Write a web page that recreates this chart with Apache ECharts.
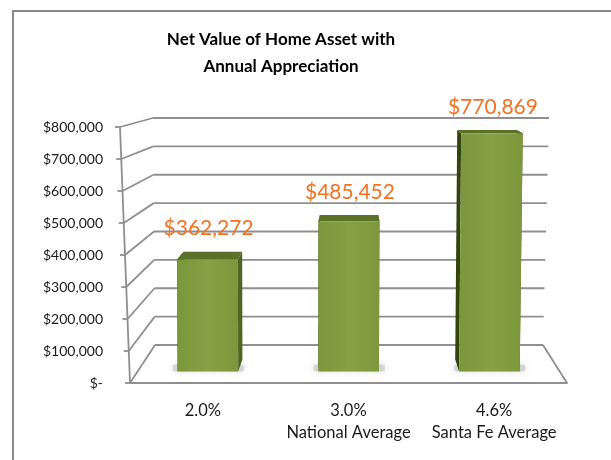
<!DOCTYPE html>
<html><head><meta charset="utf-8">
<script src="https://cdn.jsdelivr.net/npm/echarts@6/dist/echarts.min.js"></script>
<style>html,body{margin:0;padding:0;background:#fff}#c{width:611px;height:460px}</style>
</head><body><div id="c"></div>
<script>
const titleLines = ['Net Value of Home Asset with', 'Annual Appreciation'];
const categories = ['2.0%', '3.0%\nNational Average', '4.6%\nSanta Fe Average'];
const values = [362272, 485452, 770869];
const valueLabels = ['$362,272', '$485,452', '$770,869'];
const tickValues = [0, 100000, 200000, 300000, 400000, 500000, 600000, 700000, 800000];
const tickLabels = ['$-', '$100,000', '$200,000', '$300,000', '$400,000', '$500,000', '$600,000', '$700,000', '$800,000'];

const FONT = 'Lato, "Open Sans", "Noto Sans", sans-serif';
const GRID_COLOR = '#8f8f8f';

function lerp(a, b, t) { return a + (b - a) * t; }
// perspective helper: fx in [0,1] across plot, h in [0,1] of value range, t depth 0=front 1=back
function makeProj(rect, wall) {
  const L0 = rect.x, R0 = rect.x + rect.width, T0 = rect.y, B0 = rect.y + rect.height;
  return function (fx, h, t) {
    const Bt = B0 + lerp(0, -38, t), Tt = T0 + lerp(0, -9, t);
    const y = Bt - h * (Bt - Tt);
    let left, right;
    if (wall) {
      const Lb = L0 + lerp(0, 25, t), Lt = L0 + lerp(-10, 23, t);
      const Rb = R0 + lerp(0, -24, t), Rt = R0 + lerp(6, -18, t);
      left = lerp(Lb, Lt, h); right = lerp(Rb, Rt, h);
    } else {
      left = L0 + lerp(0, 25, t); right = R0 + lerp(0, -24, t);
      left += lerp(0, -1, h); right += lerp(0, 4, h) * fx;
    }
    return [left + fx * (right - left), y];
  };
}

const chart = echarts.init(document.getElementById('c'), null, {renderer: 'canvas'});

function wallRender(params, api) {
  const rect = params.coordSys;
  const P = makeProj(rect, true);
  const B0 = rect.y + rect.height, T0 = rect.y;
  const children = [];
  const ls = {stroke: GRID_COLOR, lineWidth: 1.8};
  tickValues.forEach(function (v) {
    const py = api.coord([0, v])[1];
    const h = (B0 - py) / (B0 - T0);
    const f = P(0, h, 0), b = P(0, h, 1), e = P(1, h, 1);
    children.push({type: 'line', shape: {x1: f[0], y1: f[1], x2: b[0], y2: b[1]}, style: ls});
    children.push({type: 'line', shape: {x1: b[0], y1: b[1], x2: e[0], y2: e[1]}, style: ls});
    children.push({type: 'line', shape: {x1: f[0] - 5, y1: f[1], x2: f[0], y2: f[1]}, style: ls});
  });
  const a0 = P(0, 0, 0), a1 = P(0, 1, 0);
  children.push({type: 'line', shape: {x1: a0[0], y1: a0[1], x2: a1[0], y2: a1[1]}, style: ls});
  const r0 = P(1, 0, 0), r1 = P(1, 0, 1);
  children.push({type: 'line', shape: {x1: r0[0], y1: r0[1], x2: r1[0], y2: r1[1]}, style: ls});
  return {type: 'group', children: children};
}

function barRender(params, api) {
  const rect = params.coordSys;
  const P = makeProj(rect, false);
  const L0 = rect.x, W = rect.width, B0 = rect.y + rect.height, T0 = rect.y;
  const idx = api.value(0), v = api.value(1);
  const c = api.coord([idx, v]);
  const bw = api.size([1, 0])[0];
  const fc = (c[0] - L0) / W;
  const half = 0.215 * bw / W;
  const h = (B0 - c[1]) / (B0 - T0);
  const tf = 0.3, tb = 0.62;
  const fl0 = P(fc - half, 0, tf), fr0 = P(fc + half, 0, tf);
  const fl1 = P(fc - half, h, tf), fr1 = P(fc + half, h, tf);
  const bl0 = P(fc - half, 0, tb), br0 = P(fc + half, 0, tb);
  const bl1 = P(fc - half, h, tb), br1 = P(fc + half, h, tb);
  const children = [];
  children.push({type: 'rect', shape: {x: fl0[0] - 5, y: fl0[1] - 7, width: fr0[0] - fl0[0] + 11, height: 7, r: 3},
    style: {fill: 'rgba(160,160,160,0.35)', shadowBlur: 7, shadowColor: 'rgba(0,0,0,0.35)'}});
  children.push({type: 'polygon', shape: {points: [fl0, fl1, bl1, bl0]}, style: {fill: '#33450f'}});
  children.push({type: 'polygon', shape: {points: [fr0, fr1, br1, br0]}, style: {fill: '#4d6620'}});
  children.push({type: 'polygon', shape: {points: [fl1, fr1, br1, bl1]}, style: {fill: '#5a7128'}});
  children.push({type: 'polygon', shape: {points: [fl0, fl1, fr1, fr0]}, style: {
    fill: new echarts.graphic.LinearGradient(0, 0, 1, 0, [
      {offset: 0, color: '#7b963b'}, {offset: 0.5, color: '#86a144'}, {offset: 1, color: '#7d983c'}])}});
  const lx = (fl1[0] + fr1[0]) / 2;
  children.push({type: 'text', style: {text: valueLabels[idx], x: lx + 1, y: bl1[1] - 23,
    align: 'center', verticalAlign: 'middle', fill: '#f5701f', fontSize: 21, fontFamily: FONT}});
  return {type: 'group', children: children};
}

chart.setOption({
  animation: false,
  backgroundColor: '#fff',
  grid: {left: 130, right: 44, top: 127, bottom: 77, containLabel: false},
  xAxis: {
    type: 'category', data: categories,
    axisLine: {lineStyle: {color: GRID_COLOR, width: 1.8}},
    axisTick: {length: 5, lineStyle: {color: GRID_COLOR, width: 1.8}},
    axisLabel: {interval: 0, hideOverlap: false, margin: 17, color: '#1a1a1a', fontSize: 16.5, lineHeight: 22, fontFamily: FONT}
  },
  yAxis: {
    type: 'value', min: 0, max: 800000, interval: 100000,
    axisLine: {show: false}, axisTick: {show: false}, splitLine: {show: false},
    axisLabel: {margin: 27, color: '#1a1a1a', fontSize: 14, fontFamily: FONT,
      formatter: function (v) { const i = tickValues.indexOf(v); return i >= 0 ? tickLabels[i] : ''; }}
  },
  graphic: [
    {type: 'rect', shape: {x: 13, y: 11, width: 700, height: 600}, style: {fill: 'none', stroke: '#8a8a8a', lineWidth: 2}, z: 100},
    {type: 'text', style: {text: titleLines.join('\n'), x: 281, y: 53, align: 'center', verticalAlign: 'middle',
      fontSize: 17, fontWeight: 'bold', lineHeight: 27, fill: '#000', fontFamily: FONT}}
  ],
  series: [
    {type: 'custom', coordinateSystem: 'cartesian2d', data: [[0, 0]], renderItem: wallRender, clip: false, silent: true, z: 1},
    {type: 'custom', coordinateSystem: 'cartesian2d', data: values.map(function (v, i) { return [i, v]; }),
      renderItem: barRender, clip: false, z: 2}
  ]
});
</script>
</body></html>
